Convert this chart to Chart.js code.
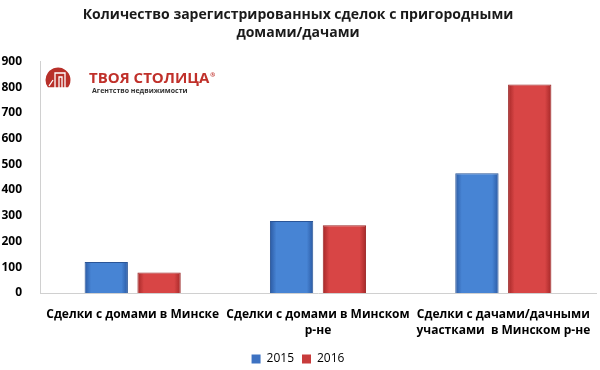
<!DOCTYPE html>
<html>
<head>
<meta charset="utf-8">
<script src="https://cdn.jsdelivr.net/npm/chart.js@4"></script>
<style>
  body { margin: 0; background: #fff; }
  #wrap { width: 600px; height: 370px; }
</style>
</head>
<body>
<div id="wrap"><canvas id="dealsChart"></canvas></div>
<script>
// data
const categories = [
  'Сделки с домами в Минске',
  ['Сделки с домами в Минском', 'р-не'],
  ['Сделки с дачами/дачными', 'участками  в Минском р-не']
];
const years = ['2015', '2016'];
const deals2015 = [120, 280, 465];
const deals2016 = [80, 263, 810];
const yTicks = [0, 100, 200, 300, 400, 500, 600, 700, 800, 900];

const FONT = '"Open Sans", "DejaVu Sans", sans-serif';

// bevel-like horizontal gradient per bar
function barFill(dark, light, solid) {
  return function(c) {
    const el = c.chart.getDatasetMeta(c.datasetIndex).data[c.dataIndex];
    if (!el || !el.width) return solid;
    const g = c.chart.ctx.createLinearGradient(el.x - el.width / 2, 0, el.x + el.width / 2, 0);
    g.addColorStop(0, dark);
    g.addColorStop(0.15, light);
    g.addColorStop(0.85, light);
    g.addColorStop(1, dark);
    return g;
  };
}

// agency logo in the top-left of the plot
const logoPlugin = {
  id: 'logo',
  afterDraw(chart) {
    const ctx = chart.ctx;
    ctx.save();
    ctx.fillStyle = '#b8302a';
    ctx.beginPath();
    ctx.arc(58, 80, 12.5, 0.2 * Math.PI, 0.8 * Math.PI, true);
    ctx.closePath();
    ctx.fill();
    // little building lines
    ctx.strokeStyle = '#fff';
    ctx.lineWidth = 1.3;
    ctx.beginPath();
    ctx.moveTo(55, 88); ctx.lineTo(55, 73); ctx.lineTo(65, 73); ctx.lineTo(65, 88);
    ctx.moveTo(59, 88); ctx.lineTo(59, 77); ctx.lineTo(62, 77); ctx.lineTo(62, 88);
    ctx.moveTo(49, 86); ctx.lineTo(53, 80);
    ctx.stroke();
    ctx.fillStyle = '#c0302a';
    ctx.font = 'bold 15px ' + FONT;
    ctx.textBaseline = 'middle';
    ctx.fillText('ТВОЯ СТОЛИЦА', 89, 79);
    const w = ctx.measureText('ТВОЯ СТОЛИЦА').width;
    ctx.font = 'bold 6px ' + FONT;
    ctx.fillText('®', 90 + w, 75);
    ctx.fillStyle = '#333';
    ctx.font = 'bold 7px ' + FONT;
    ctx.fillText('Агентство недвижимости', 92, 91);
    ctx.restore();
  }
};

const chart = new Chart(document.getElementById('dealsChart'), {
  type: 'bar',
  data: {
    labels: categories,
    datasets: [
      {
        label: years[0],
        data: deals2015,
        backgroundColor: barFill('#2b5aa3', '#4784d4', '#3d72c2'),
        borderColor: '#2a5597',
        borderWidth: 1,
        categoryPercentage: 0.57,
        barPercentage: 0.82
      },
      {
        label: years[1],
        data: deals2016,
        backgroundColor: barFill('#a52828', '#d84545', '#c83b3b'),
        borderColor: '#9b2626',
        borderWidth: 1,
        categoryPercentage: 0.57,
        barPercentage: 0.82
      }
    ]
  },
  options: {
    responsive: true,
    maintainAspectRatio: false,
    animation: false,
    layout: { padding: { left: 0, right: 4, top: 0, bottom: -5 } },
    plugins: {
      title: {
        display: true,
        text: ['Количество зарегистрированных сделок с пригородными', 'домами/дачами'],
        color: '#1a1a1a',
        font: { family: FONT, size: 14, weight: 'bold', lineHeight: 1.3 },
        padding: { top: 6, bottom: 19 }
      },
      legend: {
        position: 'bottom',
        labels: {
          boxWidth: 9,
          boxHeight: 9,
          color: '#404040',
          font: { family: FONT, size: 12 },
          padding: 8,
          generateLabels(ch) {
            const cols = ['#3d72c2', '#c83b3b'];
            return ch.data.datasets.map((ds, i) => ({
              text: ds.label,
              fillStyle: cols[i],
              strokeStyle: cols[i],
              lineWidth: 0,
              datasetIndex: i
            }));
          }
        }
      },
      tooltip: { enabled: false }
    },
    scales: {
      x: {
        grid: { display: false },
        border: { color: '#d0d0d0' },
        afterFit(scale) { scale.height = 52; },
        ticks: {
          color: '#000',
          font: { family: FONT, size: 12, weight: 'bold', lineHeight: 1.3 },
          maxRotation: 0,
          autoSkip: false,
          padding: 6
        }
      },
      y: {
        min: 0,
        max: 900,
        afterBuildTicks(scale) { scale.ticks = yTicks.map(v => ({ value: v })); },
        afterFit(scale) { scale.width = 40; },
        grid: { display: false },
        border: { color: '#d0d0d0' },
        ticks: {
          color: '#000',
          font: { family: FONT, size: 12, weight: 'bold' },
          padding: 10
        }
      }
    }
  },
  plugins: [logoPlugin]
});
chart.update();
</script>
</body>
</html>
